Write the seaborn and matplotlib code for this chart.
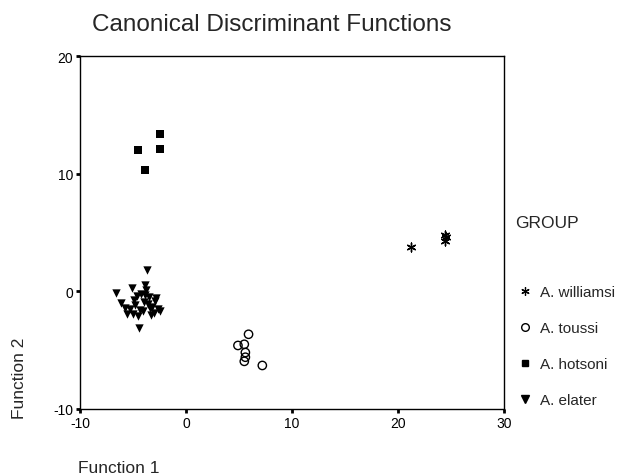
import matplotlib
matplotlib.use("Agg")
import matplotlib.pyplot as plt
import seaborn as sns
import pandas as pd
from matplotlib.lines import Line2D

sns.set_style("white")
plt.rcParams['font.family'] = ['Liberation Sans', 'DejaVu Sans']
plt.rcParams['axes.unicode_minus'] = False

groups = ["A. williamsi", "A. toussi", "A. hotsoni", "A. elater"]

williamsi_x = [21.2, 24.4, 24.4, 24.5]
williamsi_y = [3.8, 4.8, 4.25, 4.6]

toussi_x = [5.9, 4.9, 5.5, 5.6, 5.6, 5.5, 7.2]
toussi_y = [-3.65, -4.6, -4.5, -5.2, -5.6, -5.95, -6.3]

hotsoni_x = [-4.5, -3.9, -2.5, -2.45]
hotsoni_y = [12.0, 10.3, 13.4, 12.1]

elater_x = [-3.7, -6.6, -5.1, -3.9, -2.8, -6.1, -5.6, -4.4, -2.45, -4.6, -4.2, -3.8,
            -3.5, -4.0, -4.8, -5.3, -3.2, -3.0, -4.3, -3.6, -4.9, -5.8, -2.6, -3.3,
            -4.1, -3.9, -4.5, -2.9, -5.0, -3.4]
elater_y = [1.8, -0.1, 0.25, 0.5, -0.6, -0.95, -1.95, -3.1, -1.7, -0.4, -0.2, 0.1,
            -0.5, -0.9, -1.2, -1.5, -1.3, -1.8, -1.6, -1.1, -0.7, -1.4, -1.5, -2.0,
            -1.7, -0.3, -2.1, -0.8, -1.9, -1.45]

df_w = pd.DataFrame({"f1": williamsi_x, "f2": williamsi_y})
df_t = pd.DataFrame({"f1": toussi_x, "f2": toussi_y})
df_h = pd.DataFrame({"f1": hotsoni_x, "f2": hotsoni_y})
df_e = pd.DataFrame({"f1": elater_x, "f2": elater_y})

fig = plt.figure(figsize=(6.25, 4.77), dpi=100)
ax = fig.add_axes([80/625, (477-410)/477, (504-80)/625, (410-57)/477])

asterisk = (6, 2, 0)
sns.scatterplot(data=df_w, x="f1", y="f2", ax=ax, marker=asterisk, color="black",
                s=40, linewidth=1.0)
sns.scatterplot(data=df_t, x="f1", y="f2", ax=ax, marker="o", facecolor="none",
                edgecolor="black", s=36, linewidth=1.0)
sns.scatterplot(data=df_h, x="f1", y="f2", ax=ax, marker="s", color="black",
                s=28, linewidth=0)
sns.scatterplot(data=df_e, x="f1", y="f2", ax=ax, marker="v", color="black",
                s=36, linewidth=0)

ax.set_xlim(-10, 30)
ax.set_ylim(-10, 20)
ax.set_xticks([-10, 0, 10, 20, 30])
ax.set_yticks([-10, 0, 10, 20])
ax.set_xlabel("")
ax.set_ylabel("")
for s in ax.spines.values():
    s.set_color("black")
    s.set_linewidth(1.0)
ax.tick_params(axis="both", direction="out", length=3, width=2, labelsize=10,
               colors="black", pad=2, bottom=True, left=True)

fig.text(92/625, 1 - 25/477, "Canonical Discriminant Functions", fontsize=17.5,
         va="center", ha="left")
fig.text(78/625, 1 - 469/477, "Function 1", fontsize=12.5, va="center", ha="left")
fig.text(20/625, 1 - 419/477, "Function 2", fontsize=12.5, va="bottom", ha="center",
         rotation=90)

handles = [
    Line2D([], [], marker=asterisk, color="black", linestyle="none", markersize=6, markeredgewidth=0.9),
    Line2D([], [], marker="o", markerfacecolor="none", markeredgecolor="black", linestyle="none", markersize=5.5),
    Line2D([], [], marker="s", color="black", linestyle="none", markersize=4.5),
    Line2D([], [], marker="v", color="black", linestyle="none", markersize=5.5),
]
fig.text(515/625, 1 - 223/477, "GROUP", fontsize=12.5, va="center", ha="left")
leg = fig.legend(handles, groups, loc="upper left", bbox_to_anchor=(517/625, 1 - 286/477),
                 frameon=False, fontsize=11, handlelength=1.0, handletextpad=0.5,
                 labelspacing=1.45, borderaxespad=0, borderpad=0)

fig.savefig("out.png", dpi=100)
